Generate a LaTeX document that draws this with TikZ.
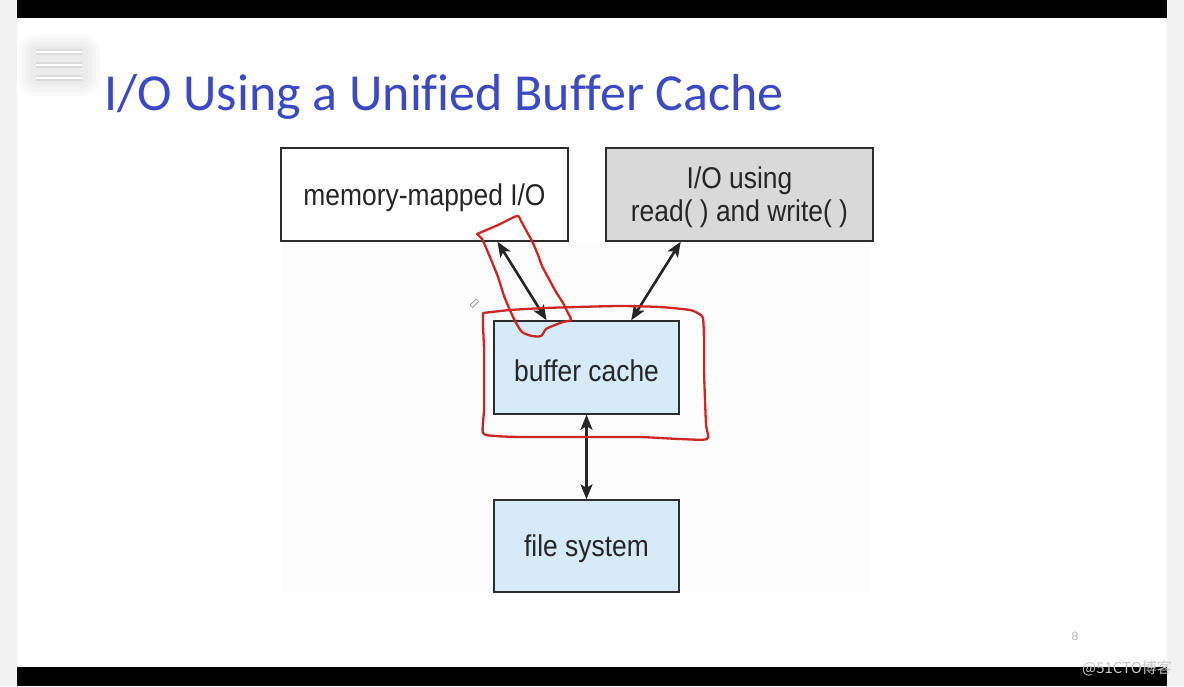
\documentclass[tikz,border=0pt]{standalone}
\usepackage{fontspec}
\setmainfont{Liberation Sans}
\newfontfamily\titlefont[Ligatures=NoCommon]{Carlito}
\newfontfamily\boxfont[FakeStretch=0.88]{Liberation Sans}
\newfontfamily\cjkfont{Noto Sans CJK SC}
\usetikzlibrary{arrows.meta,calc}
\definecolor{titleblue}{RGB}{60,72,196}
\definecolor{stripgray}{RGB}{242,242,242}
\definecolor{boxblue}{RGB}{214,234,248}
\definecolor{boxgray}{RGB}{217,217,217}
\definecolor{boxline}{RGB}{45,45,45}
\definecolor{inkred}{RGB}{204,38,38}
\definecolor{figbg}{RGB}{252,252,252}
\newcommand{\boxtxt}[1]{\raisebox{-3pt}[\height][\depth]{#1}}
\tikzset{
  box/.style={draw=boxline, line width=1.4pt, inner sep=0pt, align=center,
    font=\boxfont\fontsize{30}{32}\selectfont, text=black!85},
  dbl/.style={line width=2.6pt, draw=black!85,
    {Stealth[length=15pt,width=12pt,inset=3.5pt]}-{Stealth[length=15pt,width=12pt,inset=3.5pt]}},
  ink/.style={draw=inkred, line width=2.3pt, line join=round, line cap=round},
}
\begin{document}
\begin{tikzpicture}[x=1pt,y=-1pt]
\useasboundingbox (0,0) rectangle (1184,686);
\fill[white] (0,0) rectangle (1184,686);
\fill[stripgray] (0,0) rectangle (17,686);
\fill[stripgray] (1167,0) rectangle (1184,686);
\fill[black] (17,0) rectangle (1167,18);
\fill[black] (17,667) rectangle (1167,686);
% hamburger icon with soft shadow
\foreach \w in {18,14,10,6} {
  \fill[black, opacity=0.018, rounded corners=\w pt] (36-\w,52-\w) rectangle (82+\w,78+\w);
}
\foreach \yy in {52,65,78} {
  \draw[black!20, line width=6pt, opacity=0.5] (36,\yy) -- (82,\yy);
  \draw[white, line width=2.6pt] (36,\yy) -- (82,\yy);
}
% title
\node[anchor=base west, inner sep=0pt, text=titleblue,
  font=\titlefont\fontsize{52}{56}\selectfont] (title) at (104,110)
  {I/O Using a Unified Buffer Cache};
% figure background
\fill[figbg] (281,241) rectangle (870,592);
% boxes
\node[box, fill=white, minimum width=287pt, minimum height=93pt] (mm) at (424.5,194.5) {\boxtxt{memory-mapped I/O}};
\node[box, fill=boxgray, minimum width=267pt, minimum height=93pt] (rw) at (739.5,194.5) {\raisebox{-4pt}[\height][\depth]{\begin{tabular}{@{}c@{}}I/O using\\[1pt]read( ) and write( )\end{tabular}}};
\node[box, fill=boxblue, minimum width=185pt, minimum height=93pt] (bc) at (586.5,367.5) {\boxtxt{buffer cache}};
\node[box, fill=boxblue, minimum width=185pt, minimum height=92pt] (fs) at (586.5,546) {\boxtxt{file system}};
% connectors
\draw[dbl] ($(mm.south west)!0.753!(mm.south east)$) -- ($(bc.north west)!0.286!(bc.north east)$);
\draw[dbl] ($(rw.south west)!0.281!(rw.south east)$) -- ($(bc.north west)!0.74!(bc.north east)$);
\draw[dbl] (bc.south) -- (fs.north);
% red hand-drawn annotations
\draw[ink] plot[smooth, tension=0.4] coordinates {
  (477,234) (498,225) (517,216) (521,221) (527,232) (532,241) (538,255) (542,266)
  (550,281) (556,292) (563,303) (568,313) (571,320) (563,322) (555,325) (546,329)
  (541,336) (532,336) (522,332) (515,321) (509,308) (504,296) (498,277) (492,262)
  (487,250) (482,239) (477,234)};
\draw[ink] plot[smooth, tension=0.4] coordinates {
  (483,313) (510,310) (545,308) (577,307) (620,306) (660,307) (690,310) (699,314)
  (703,318) (704,340) (704,370) (705,400) (706,425) (707,439) (680,439) (640,437)
  (600,437) (560,437) (520,437) (496,436) (483,433) (484,410) (484,380) (484,350)
  (483,325) (483,313)};
% pencil cursor
\draw[black!45, line width=0.7pt] (470,305) -- (476,299) -- (478.5,301.5) -- (472.5,307.5) -- cycle;
% page number and watermark
\node[text=black!30, font=\fontsize{12}{13}\selectfont, inner sep=0pt] (pg) at (1075,636) {8};
\node[text=black!22, font=\cjkfont\fontsize{15}{16}\selectfont, inner sep=0pt] (wm) at (1127,668) {@51CTO博客};
\end{tikzpicture}
\end{document}
